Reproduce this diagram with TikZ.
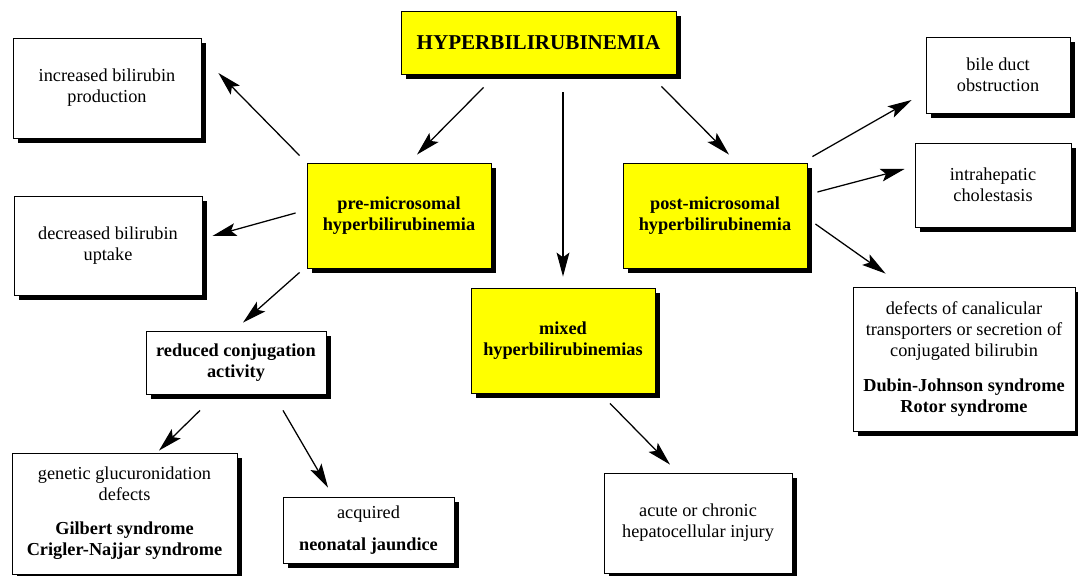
\documentclass[tikz,border=0pt]{standalone}
\usepackage{fontspec}
\setmainfont{Liberation Serif}
\usepackage{tikz}
\usetikzlibrary{shadows, shapes, arrows.meta, positioning, calc}
\newlength{\px}
\setlength{\px}{0.025cm}
\definecolor{boxyellow}{RGB}{255,255,0}

\begin{document}
\begin{tikzpicture}[x=0.025cm,y=-0.025cm,
    box/.style={draw=black, line width=0.6pt, fill=white, align=center, inner sep=1pt,
      font=\fontsize{13}{15}\selectfont,
      drop shadow={shadow xshift=5\px, shadow yshift=-5\px, fill=black, opacity=1}},
    keybox/.style={box, fill=boxyellow, font=\fontsize{13}{15}\selectfont\bfseries}]
  \useasboundingbox (0,0) rectangle (1078,576);
  \begin{scope}
    \node[keybox, minimum width=275\px, minimum height=63\px,
      font=\fontsize{15}{17}\selectfont\bfseries] (hyper) at (538.5,42.5) {HYPERBILIRUBINEMIA};
    \node[keybox, minimum width=184\px, minimum height=105\px] (pre) at (399,215.5) {pre-microsomal\\hyperbilirubinemia};
    \node[keybox, minimum width=184\px, minimum height=105\px] (post) at (715,215.5) {post-microsomal\\hyperbilirubinemia};
    \node[keybox, minimum width=184\px, minimum height=105\px] (mixed) at (563,340.5) {mixed\\hyperbilirubinemias};
    \node[box, minimum width=188\px, minimum height=100\px] (inc) at (107,88) {increased bilirubin\\production};
    \node[box, minimum width=188\px, minimum height=99\px] (dec) at (108,245.5) {decreased bilirubin\\uptake};
    \node[box, minimum width=180\px, minimum height=63\px] (reduced) at (236,362.5) {\bfseries reduced conjugation\\\bfseries activity};
    \node[box, minimum width=225\px, minimum height=121\px] (genetic) at (124.5,513.5)
      {genetic glucuronidation\\defects\\[9pt]\textbf{Gilbert syndrome}\\\textbf{Crigler-Najjar syndrome}};
    \node[box, minimum width=171\px, minimum height=66\px] (acquired) at (368.5,530) {acquired\\[8pt]\textbf{neonatal jaundice}};
    \node[box, minimum width=188\px, minimum height=100\px] (acute) at (698,523) {acute or chronic\\hepatocellular injury};
    \node[box, minimum width=144\px, minimum height=76\px] (bile) at (998,75) {bile duct\\obstruction};
    \node[box, minimum width=156\px, minimum height=84\px] (intra) at (993,185) {intrahepatic\\cholestasis};
    \node[box, minimum width=222\px, minimum height=144\px] (defects) at (964,359)
      {defects of canalicular\\transporters or secretion of\\conjugated bilirubin\\[10pt]\textbf{Dubin-Johnson syndrome}\\\textbf{Rotor syndrome}};
  \end{scope}
  \begin{scope}[every edge/.style={draw=black, line width=0.9pt, -{Stealth[length=0.6cm, width=0.32cm, inset=0.12cm]}}]
    \path ($(hyper.south west)+(83,13)$) edge ($(pre.north)+(18,-8)$);
    \path ($(mixed.north |- hyper.south)+(0,18)$) edge ($(mixed.north)+(0,-11)$);
    \path ($(hyper.south east)+(-15,12)$) edge ($(post.north)+(14,-8)$);
    \path ($(pre.north west)+(-7,-7)$) edge ($(inc.east)+(17,-15)$);
    \path ($(pre.west)+(-11,-2.5)$) edge ($(dec.east)+(10,-9.5)$);
    \path ($(pre.south west)+(-7,4)$) edge ($(reduced.north)+(7,-8)$);
    \path ($(reduced.south)+(-36,16)$) edge ($(genetic.north)+(34.5,-2)$);
    \path ($(reduced.south)+(47,16)$) edge ($(acquired.north)+(-40.5,-9)$);
    \path ($(mixed.south)+(47,10)$) edge ($(acute.north)+(-28,-8)$);
    \path ($(post.north east)+(5,-6)$) edge ($(bile.west)+(-14,25)$);
    \path ($(post.east)+(10,-23.5)$) edge ($(intra.west)+(-10,-16)$);
    \path ($(post.east)+(8,8.5)$) edge ($(defects.north west)+(33,-13)$);
  \end{scope}
\end{tikzpicture}
\end{document}
